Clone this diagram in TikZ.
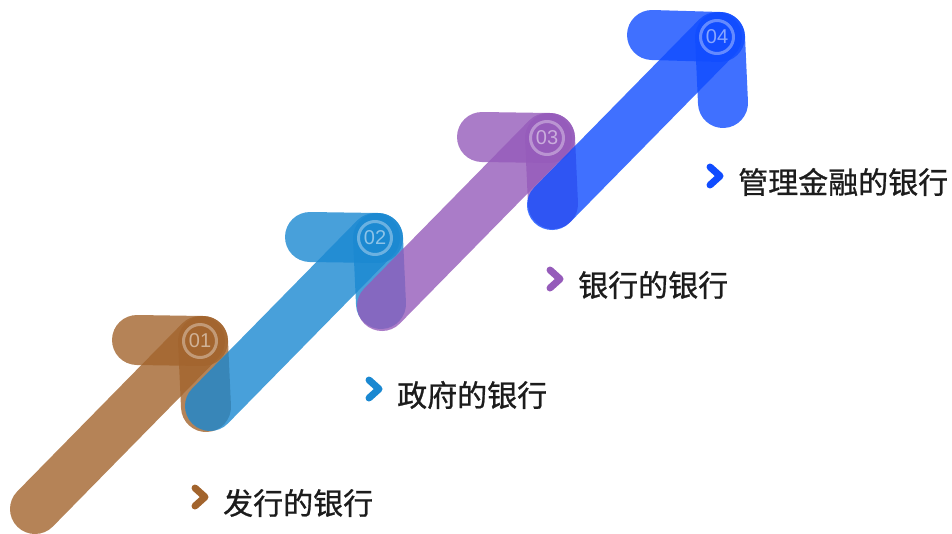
\documentclass[tikz,border=0pt]{standalone}
\usepackage{fontspec}
\newfontfamily\cjk[FakeBold=0.8]{Noto Sans CJK SC}
\newfontfamily\numfont{Liberation Sans}
\usetikzlibrary{positioning}
\definecolor{mbrown}{RGB}{162, 100, 45}
\definecolor{mblue}{RGB}{26, 136, 209}
\definecolor{mpurple}{RGB}{149, 91, 186}
\definecolor{mroyal}{RGB}{16, 76, 255}
\definecolor{mtext}{RGB}{28, 28, 28}
\tikzset{bar/.style = {line width = 50pt, line cap = round, opacity = 0.8}}
\tikzset{ring/.style = {circle, draw = white, draw opacity = 0.35, line width = 3pt,
                        minimum size = 33pt, inner sep = 0, text = white, text opacity = 0.5,
                        font = \numfont\fontsize{20}{20}\selectfont}}
\tikzset{chev/.style = {line width = 7pt, line cap = round, line join = round}}
\tikzset{lbl/.style = {anchor = west, inner sep = 0, text = mtext,
                       font = \cjk\fontsize{30}{30}\selectfont}}

\begin{document}
\begin{tikzpicture}[x=1pt, y=-1pt]
  \useasboundingbox (0, 0) rectangle (952, 533);

  \begin{scope}[shift={(200, 341)}]
    \draw [bar, mbrown] (-165, 168) -- (0, 0);
    \draw [bar, mbrown] (-63, -1) -- (3, 0);
    \draw [bar, mbrown] (3, 0) -- (6, 66);
    \node [ring] (n1) {01};
  \end{scope}

  \begin{scope}[shift={(375, 238)}]
    \draw [bar, mblue] (-165, 168) -- (0, 0);
    \draw [bar, mblue] (-65, -1) -- (3, 0);
    \draw [bar, mblue] (3, 0) -- (6, 66);
    \node [ring] (n2) {02};
  \end{scope}

  \begin{scope}[shift={(547, 138)}]
    \draw [bar, mpurple] (-165, 168) -- (0, 0);
    \draw [bar, mpurple] (-65, -1) -- (3, 0);
    \draw [bar, mpurple] (3, 0) -- (6, 66);
    \node [ring] (n3) {03};
  \end{scope}

  \begin{scope}[shift={(717, 37)}]
    \draw [bar, mroyal] (-165, 168) -- (0, 0);
    \draw [bar, mroyal] (-65, -2) -- (3, 0);
    \draw [bar, mroyal] (3, 0) -- (6, 66);
    \node [ring] (n4) {04};
  \end{scope}

  % labels
  \node [lbl] (t1) at (223, 503) {发行的银行};
  \draw [chev, mbrown] ([shift={(-28, -15)}]t1.west) -- ++(10, 9) -- ++(-10, 9);

  \node [lbl] (t2) at (397, 395) {政府的银行};
  \draw [chev, mblue] ([shift={(-28, -15)}]t2.west) -- ++(10, 9) -- ++(-10, 9);

  \node [lbl] (t3) at (578, 285) {银行的银行};
  \draw [chev, mpurple] ([shift={(-28, -15)}]t3.west) -- ++(10, 9) -- ++(-10, 9);

  \node [lbl] (t4) at (738, 182) {管理金融的银行};
  \draw [chev, mroyal] ([shift={(-28, -15)}]t4.west) -- ++(10, 9) -- ++(-10, 9);
\end{tikzpicture}
\end{document}
